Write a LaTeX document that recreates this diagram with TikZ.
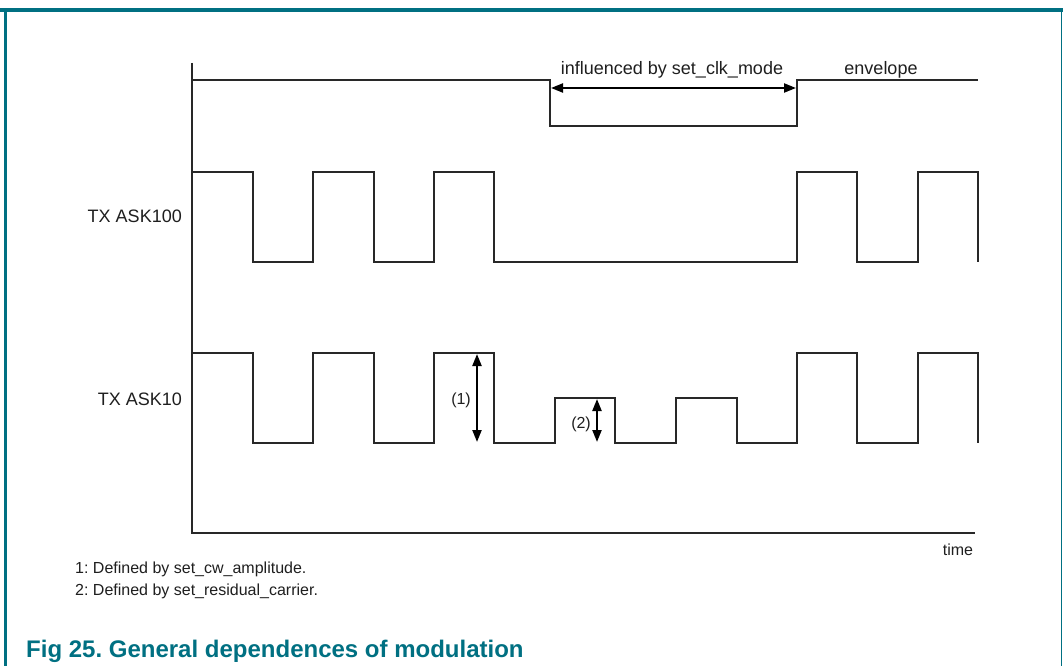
\documentclass[tikz,border=0pt]{standalone}
\usepackage{fontspec}
\setmainfont{Liberation Sans}
\usetikzlibrary{arrows.meta}
\definecolor{nxpteal}{RGB}{0,112,130}
\definecolor{wavecol}{RGB}{40,40,40}
\begin{document}
\frenchspacing
\begin{tikzpicture}[x=1pt,y=-1pt,
  wave/.style={draw=wavecol,line width=1.8pt},
  dimarrow/.style={draw=black,line width=2.2pt,{Triangle[length=12pt,width=9pt]}-{Triangle[length=12pt,width=9pt]}},
  lbl/.style={font=\fontsize{18}{21}\selectfont,inner sep=0pt,text=black!88},
  sm/.style={font=\fontsize{16}{19}\selectfont,inner sep=0pt,text=black!88},
  ttl/.style={font=\fontsize{24}{28}\selectfont\bfseries,inner sep=0pt,text=nxpteal},
]
\useasboundingbox (0,0) rectangle (1063,666);
\fill[white] (0,0) rectangle (1063,666);
% frame
\draw[nxpteal,line width=3.5pt] (0,10) -- (1063,10);
\draw[nxpteal,line width=3pt] (5.5,10) -- (5.5,666);
\draw[nxpteal,line width=1.5pt] (1061.5,10) -- (1061.5,666);
% axes
\draw[wave] (192,63) -- (192,533) -- (975,533);
% envelope
\draw[wave] (192,80) -- (550,80) -- (550,126) -- (797,126) -- (797,80) -- (978,80);
% TX ASK100
\draw[wave] (192,172) -| (253,262) -| (313,172) -| (374,262) -| (434,172) -| (494,262)
  -| (797,172) -| (857,262) -| (918,172) -| (978,262);
% TX ASK10
\draw[wave] (192,353) -| (253,443) -| (313,353) -| (374,443) -| (434,353) -| (494,443)
  -| (555,398) -| (615,443) -| (676,398) -| (737,443) -| (797,353) -| (857,443)
  -| (918,353) -| (978,443);
% dimension arrows
\coordinate (e1) at (551,88);
\coordinate (e2) at (796,88);
\draw[dimarrow] (e1) -- (e2);
\coordinate (a1t) at (477,354);
\coordinate (a1b) at (477,442);
\draw[dimarrow] (a1t) -- (a1b);
\coordinate (a2t) at (597,399);
\coordinate (a2b) at (597,442);
\draw[dimarrow] (a2t) -- (a2b);
% labels
\node[lbl,anchor=base] (infl) at (672,75) {influenced by set\_clk\_mode};
\node[lbl,anchor=base] (env) at (881,75) {envelope};
\node[lbl,anchor=base east] (ask100) at (182,222) {TX ASK100};
\node[lbl,anchor=base east] (ask10) at (182,405) {TX ASK10};
\node[sm,anchor=base east] (l1) at (471,404) {(1)};
\node[sm,anchor=base east] (l2) at (591,428) {(2)};
\node[sm,anchor=base] (time) at (958,555) {time};
\node[sm,anchor=base west] (f1) at (75,573) {1: Defined by set\_cw\_amplitude.};
\node[sm,anchor=base west] (f2) at (75,595) {2: Defined by set\_residual\_carrier.};
\node[ttl,anchor=base west] (title) at (26,657) {Fig 25. General dependences of modulation};
\end{tikzpicture}
\end{document}
